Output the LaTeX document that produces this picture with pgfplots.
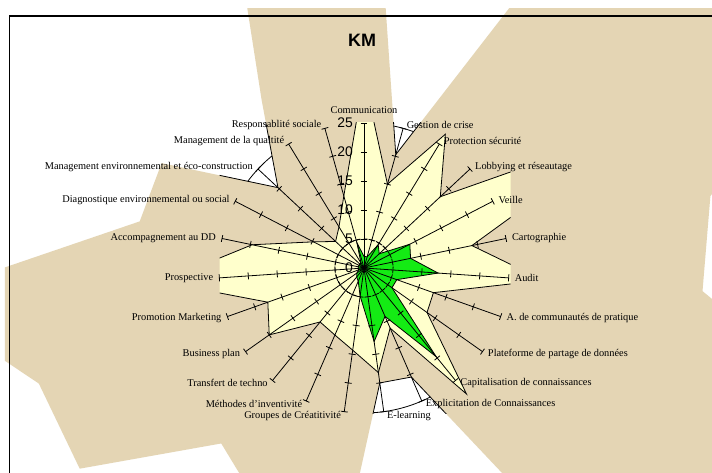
\documentclass[border=0pt]{standalone}
\usepackage{pgfplots}
\pgfplotsset{compat=1.18}
\usepackage{pgfplotstable}
\usepackage{fontspec}
\setmainfont{Liberation Serif}
\newfontfamily\arial{Liberation Sans}
\definecolor{parch}{RGB}{228,213,180}
\definecolor{lyel}{RGB}{255,255,204}
\definecolor{lgreen}{RGB}{20,235,20}

% i = category index (clockwise from top), yel / grn / par = the three series
\pgfplotstableread{
i yel grn par
0 33 2 99
1 15 2 20.3
2 27 4.7 68
3 18 3.6 100
4 52 8.9 100
5 19 8.2 61
6 31 12.8 58.5
7 12.7 6 100
8 13.3 5.9 100
9 28 19.7 94
10 11.3 9.1 20.5
11 18.2 12.8 20
12 14.3 4.9 86
13 12.6 2.5 45
14 12 2 39
15 20 1.5 60
16 17.6 1 59.5
17 35 1 78
18 19.7 1 39.5
19 9.8 1 39.3
20 6.7 1 20.3
21 8.3 1 34
22 12.9 4.5 110
23 33 2 99
}\radar

\newcommand\lfont{\fontsize{10.4}{12}\selectfont}
\newcommand\lab[3]{\pgfmathsetmacro\ang{90-#1*360/23}%
  \node[anchor=#2,font=\lfont,inner sep=2.5pt] at (axis cs:{25.6*cos(\ang)},{25.6*sin(\ang)}) {#3};}

\begin{document}
\begin{tikzpicture}
\begin{axis}[width=712bp, height=472bp, scale only axis, hide axis,
  xmin=-62.7586, xmax=60, ymin=-35.1724, ymax=46.2069, clip=false]
\pgfplotsextra{
  \fill[white] (rel axis cs:0,0) rectangle (rel axis cs:1,1);
  \coordinate (BL) at (rel axis cs:0,0);
  \coordinate (TR) at (rel axis cs:1,1);
  \draw[line width=0.8pt] (axis cs:0,0) circle[radius=145bp];
}
% parchment series
\begin{scope}
\clip (axis cs:-61.9,-36) rectangle (axis cs:61,44.66);
\addplot[fill=parch, draw=none] table[x expr={\thisrow{par}*cos(90-\thisrow{i}*360/23)}, y expr={\thisrow{par}*sin(90-\thisrow{i}*360/23)}] {\radar};
\end{scope}
\pgfplotsextra{
  \draw[line width=1.2pt] (axis cs:-61.12,-36) -- (axis cs:-61.12,43.45) -- (axis cs:61,43.45);
}
\begin{scope}
\clip (axis cs:-24.9,-25.05) rectangle (axis cs:25.3,25.0);
\addplot[draw=black, line width=0.8pt, fill=none] table[x expr={\thisrow{par}*cos(90-\thisrow{i}*360/23)}, y expr={\thisrow{par}*sin(90-\thisrow{i}*360/23)}] {\radar};
\addplot[fill=lyel, draw=black, line width=0.8pt] table[x expr={\thisrow{yel}*cos(90-\thisrow{i}*360/23)}, y expr={\thisrow{yel}*sin(90-\thisrow{i}*360/23)}] {\radar};
\end{scope}
\pgfplotsextra{
  \draw[line width=0.9pt, dash pattern=on 4pt off 3pt] (axis cs:0,0) circle[radius=29bp];
}
\addplot[fill=lgreen, draw=black, line width=0.8pt] table[x expr={\thisrow{grn}*cos(90-\thisrow{i}*360/23)}, y expr={\thisrow{grn}*sin(90-\thisrow{i}*360/23)}] {\radar};
\pgfplotsextra{
  \foreach \k in {0,...,22}{
    \pgfmathsetmacro\ang{90-\k*360/23}
    \draw[line width=0.8pt] (axis cs:0,0) -- (axis cs:{25*cos(\ang)},{25*sin(\ang)});
    \foreach \v in {5,10,15,20,25}{
      \draw[line width=0.8pt] (axis cs:{\v*cos(\ang)-0.6*sin(\ang)},{\v*sin(\ang)+0.6*cos(\ang)}) -- (axis cs:{\v*cos(\ang)+0.6*sin(\ang)},{\v*sin(\ang)-0.6*cos(\ang)});
    }
  }
  \foreach \v in {0,5,10,15,20,25}{
    \node[anchor=east, inner sep=0pt, font=\arial\fontsize{14}{14}\selectfont] at (axis cs:-1.9,\v) {\v};
  }
  \node[anchor=south,font=\lfont,inner sep=2pt] at (axis cs:0,26.3) {Communication};
  \lab{1}{west}{Gestion de crise}
  \lab{2}{west}{Protection sécurité}
  \lab{3}{west}{Lobbying et réseautage}
  \lab{4}{west}{Veille}
  \lab{5}{west}{Cartographie}
  \lab{6}{west}{Audit}
  \lab{7}{west}{A. de communautés de pratique}
  \lab{8}{west}{Plateforme de partage de données}
  \lab{9}{west}{Capitalisation de connaissances}
  \lab{10}{west}{Explicitation de Connaissances}
  \pgfmathsetmacro\ang{90-11*360/23}
  \node[anchor=west,font=\lfont,inner sep=2.5pt] at (axis cs:{25.8*cos(\ang)},{25.8*sin(\ang)}) {E-learning};
  \pgfmathsetmacro\ang{90-12*360/23}
  \node[anchor=east,font=\lfont,inner sep=2.5pt] at (axis cs:{25.8*cos(\ang)},{25.8*sin(\ang)}) {Groupes de Créatitivité};
  \lab{13}{east}{Méthodes d'inventivité}
  \lab{14}{east}{Transfert de techno}
  \lab{15}{east}{Business plan}
  \lab{16}{east}{Promotion Marketing}
  \lab{17}{east}{Prospective}
  \lab{18}{east}{Accompagnement au DD}
  \lab{19}{east}{Diagnostique environnemental ou social}
  \lab{20}{east}{Management environnemental et éco-construction}
  \lab{21}{east}{Management de la qualtité}
  \lab{22}{east}{Responsablité sociale}
  \node[font=\arial\bfseries\fontsize{18}{18}\selectfont] at (axis cs:-0.34,39.3) {KM};
}
\end{axis}
\pgfresetboundingbox
\path[use as bounding box] (BL) rectangle (TR);
\end{tikzpicture}
\end{document}
